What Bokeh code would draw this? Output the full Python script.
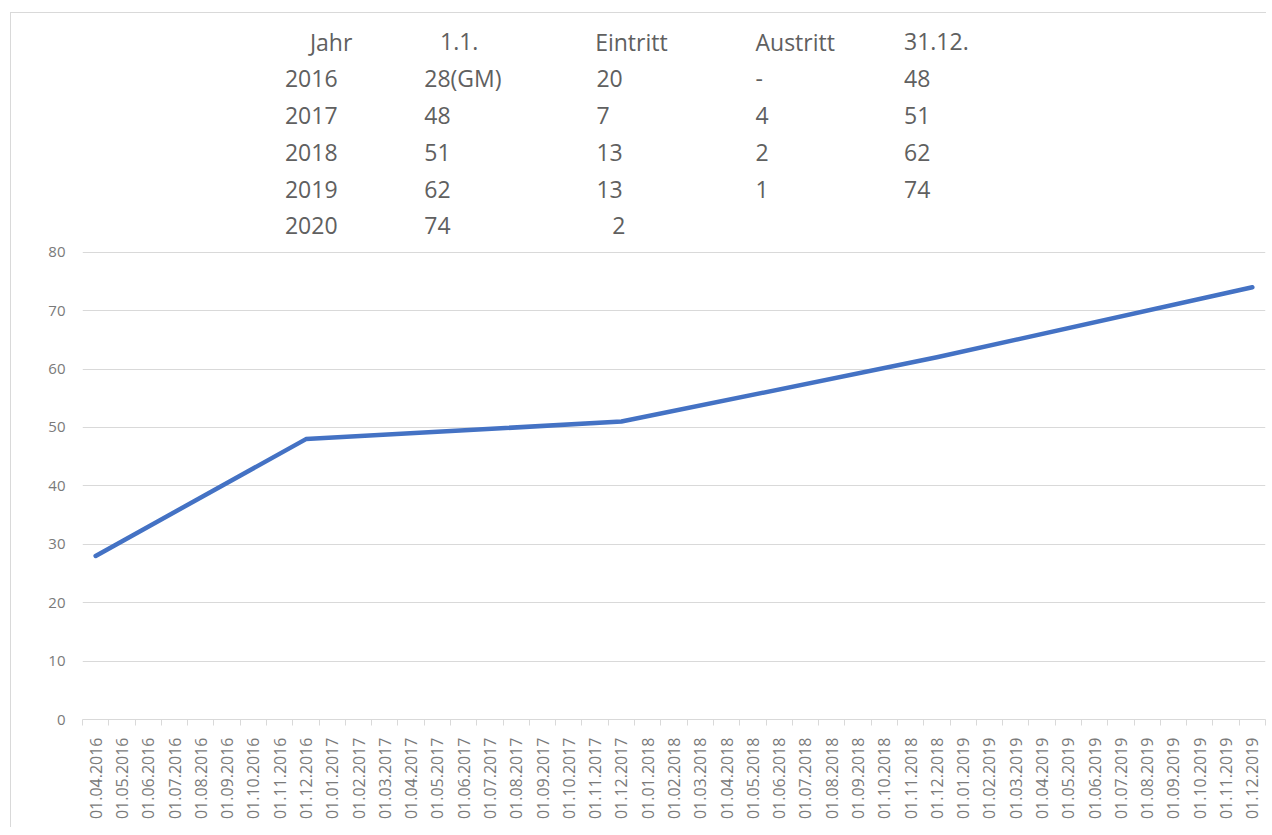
import math
from bokeh.plotting import figure
from bokeh.models import Range1d, FixedTicker, ColumnDataSource
from bokeh.core.properties import value
from bokeh.embed import file_html
from bokeh.resources import INLINE

# ---- data ----
categories = ["01.04.2016", "01.05.2016", "01.06.2016", "01.07.2016", "01.08.2016", "01.09.2016",
              "01.10.2016", "01.11.2016", "01.12.2016"] + \
             ["01.%02d.%d" % (m, y) for y in (2017, 2018, 2019) for m in range(1, 13)]

member_dates = ["01.04.2016", "01.12.2016", "01.12.2017", "01.12.2018", "01.12.2019"]
members = [28, 48, 51, 62, 74]

table_header = ["Jahr", "1.1.", "Eintritt", "Austritt", "31.12."]
years = ["2016", "2017", "2018", "2019", "2020"]
start_count = ["28(GM)", "48", "51", "62", "74"]
entries = ["20", "7", "13", "13", "2"]
exits = ["-", "4", "2", "1", ""]
end_count = ["48", "51", "62", "74", ""]

y_ticks = [0, 10, 20, 30, 40, 50, 60, 70, 80]

# ---- layout constants (data-space positions of table text) ----
header_x = [8.15, 13.1, 19.0, 25.1, 30.75]
col_x = [7.2, 12.5, 19.05, 25.1, 30.75]
header_y = 116.0
row_y0 = 109.8
row_step = 6.33

n = len(categories)
p = figure(width=1256, height=815, output_backend="svg", toolbar_location=None,
           x_range=Range1d(-0.5, n - 0.5), y_range=Range1d(0, 120),
           min_border_left=71, min_border_right=2, min_border_top=5, min_border_bottom=109)
p.outline_line_color = None
p.background_fill_color = "white"
p.border_fill_color = "white"
p.styles = {"margin-left": "10px", "margin-top": "12px",
            "border-top": "1px solid #d9d9d9", "border-left": "1px solid #d9d9d9"}

# x axis
xt = FixedTicker(ticks=list(range(n)), minor_ticks=[i - 0.5 for i in range(n + 1)])
p.xaxis.ticker = xt
p.xaxis.major_label_overrides = {i: c for i, c in enumerate(categories)}
p.xaxis.major_label_orientation = math.pi / 2
p.xaxis.axis_line_color = "#d9d9d9"
p.xaxis.major_tick_line_color = None
p.xaxis.major_tick_out = 0
p.xaxis.major_tick_in = 0
p.xaxis.minor_tick_line_color = "#d9d9d9"
p.xaxis.minor_tick_out = 6
p.xaxis.minor_tick_in = 0
p.xaxis.major_label_standoff = 12
p.xaxis.major_label_text_font = "Open Sans"
p.xaxis.major_label_text_font_size = "16px"
p.xaxis.major_label_text_color = "#7a7a7a"
p.xgrid.visible = False

# y axis
yt = FixedTicker(ticks=y_ticks)
p.yaxis.ticker = yt
p.ygrid.ticker = yt
p.ygrid.grid_line_color = "#d9d9d9"
p.yaxis.axis_line_color = None
p.yaxis.major_tick_line_color = None
p.yaxis.minor_tick_line_color = None
p.yaxis.major_tick_out = 0
p.yaxis.major_label_standoff = 17
p.yaxis.major_label_text_font = "Open Sans"
p.yaxis.major_label_text_font_size = "15px"
p.yaxis.major_label_text_color = "#7a7a7a"

# line
xs = [categories.index(d) for d in member_dates]
p.line(x=xs, y=members, line_color="#4472C4", line_width=4.5, line_join="round", line_cap="round")

# table text
tx, ty, tt = [], [], []
for i, h in enumerate(table_header):
    tx.append(header_x[i]); ty.append(header_y); tt.append(h)
columns = [years, start_count, entries, exits, end_count]
for ci, col in enumerate(columns):
    for ri, v in enumerate(col):
        if v == "":
            continue
        x = col_x[ci]
        if ci == 2 and ri == 4:
            x += 0.6
        tx.append(x); ty.append(row_y0 - ri * row_step); tt.append(v)
src = ColumnDataSource(dict(x=tx, y=ty, t=tt))
p.text(x="x", y="y", text="t", source=src, text_font=value("Open Sans"), text_font_size="23px",
       text_color="#606060", text_baseline="middle", text_align="left")

open("out.html", "w").write(file_html(p, INLINE))
